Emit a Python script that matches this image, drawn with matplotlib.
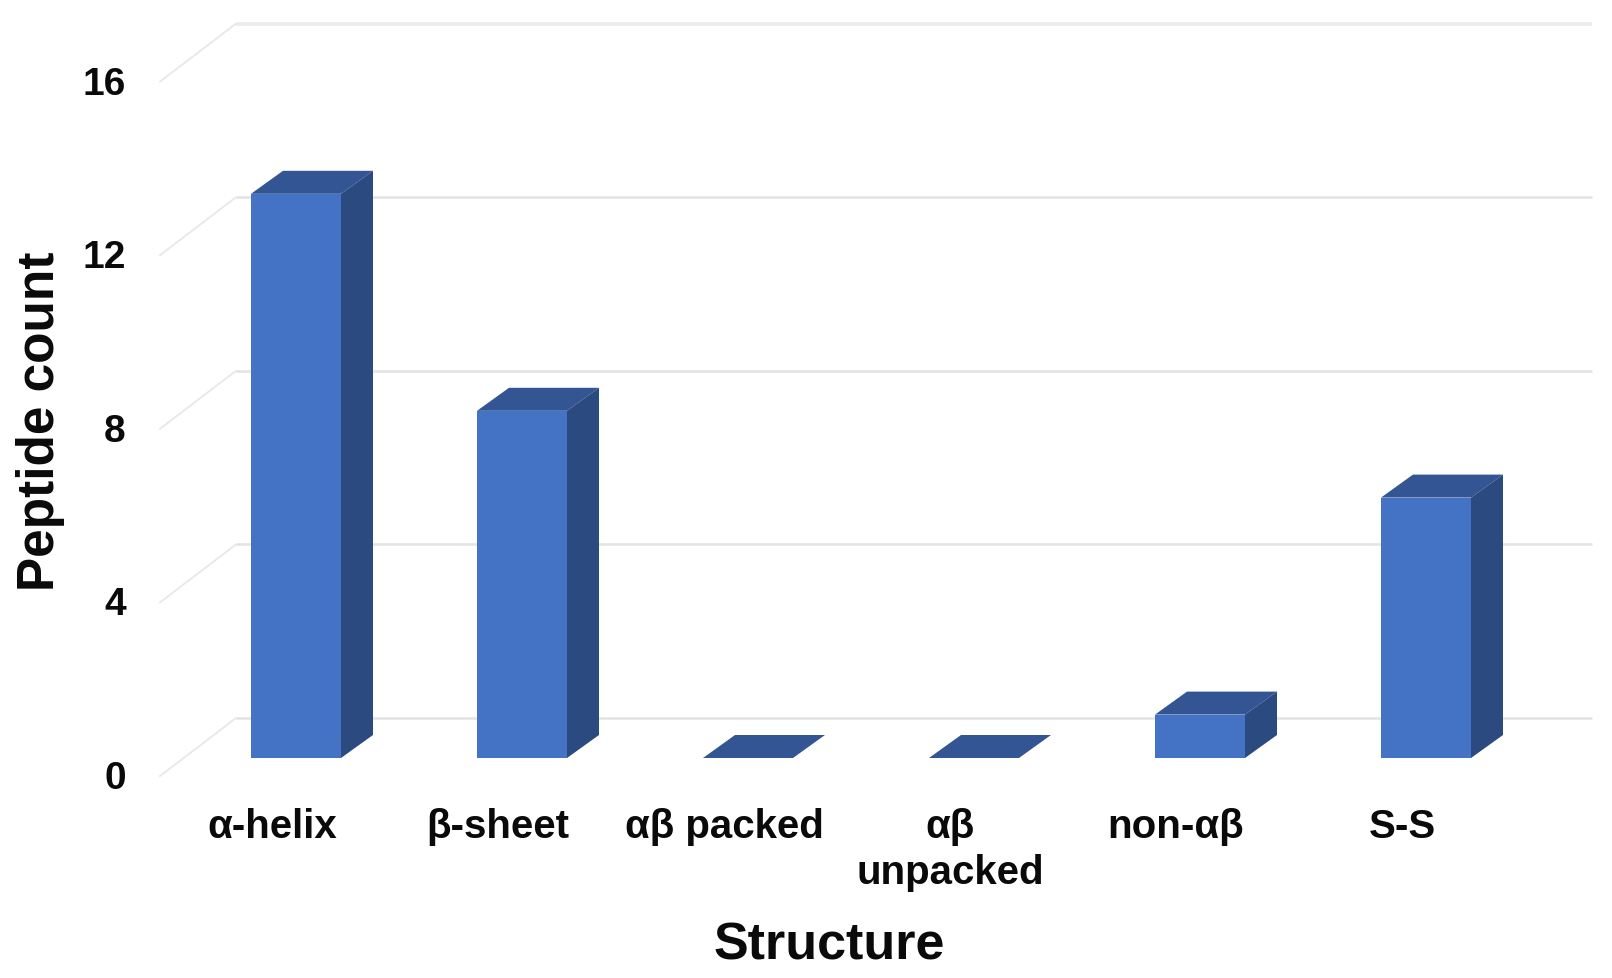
import numpy as np
import matplotlib
matplotlib.use('Agg')
import matplotlib.pyplot as plt
from matplotlib.patches import Polygon

plt.rcParams['font.family'] = ['Liberation Sans', 'DejaVu Sans']
plt.rcParams['font.weight'] = 'bold'

categories = ['α-helix', 'β-sheet', 'αβ packed', 'αβ\nunpacked', 'non-αβ', 'S-S']
peptide_count = [13, 8, 0, 0, 1, 6]
y_ticks = [0, 4, 8, 12, 16]

W, H = 1612, 979
# pixel scale of the chart
px_x = 226.0
px_y = 43.4
x0_px, y0_px = 296, 759
left_px, bottom_px = 130, 800

fig = plt.figure(figsize=(W / 100, H / 100), dpi=100)
ax = fig.add_axes([left_px / W, 1 - bottom_px / H, 1 - left_px / W, bottom_px / H])
ax.set_xlim((left_px - x0_px) / px_x, (W - x0_px) / px_x)
ax.set_ylim((y0_px - bottom_px) / px_y, y0_px / px_y)

# depth of the fake 3d look, in data units
bar_width = 90 / px_x
bar_dx = 32 / px_x
bar_dy = 23 / px_y
back_dy = 40 / px_y
front_dy = -18 / px_y
label_dy = -16 / px_y
wall_left = -60 / px_x
floor_left = -136 / px_x
wall_right = (1592 - x0_px) / px_x

for v in y_ticks:
    lw = 2.6 if v == 16 else 1.8
    color = '#ececec' if v == 16 else '#e3e3e3'
    ax.plot([wall_left, wall_right], [v + back_dy, v + back_dy], color=color, lw=lw, zorder=1,
            solid_capstyle='butt')
    ax.plot([floor_left, wall_left], [v + front_dy, v + back_dy], color='#e8e8e8', lw=1.3, zorder=1)

x = np.arange(len(categories))
ax.bar(x, peptide_count, width=bar_width, color='#4472c4', zorder=3)

for xi, v in zip(x, peptide_count):
    xl = xi - bar_width / 2
    xr = xi + bar_width / 2
    ax.add_patch(Polygon([(xl, v), (xr, v), (xr + bar_dx, v + bar_dy), (xl + bar_dx, v + bar_dy)],
                         closed=True, facecolor='#335593', edgecolor='none', zorder=3))
    if v > 0:
        ax.add_patch(Polygon([(xr, 0), (xr + bar_dx, bar_dy), (xr + bar_dx, v + bar_dy), (xr, v)],
                             closed=True, facecolor='#2a4a80', edgecolor='none', zorder=3))

ax.set_xticks(x - 24 / px_x)
ax.set_xticklabels(categories, fontsize=29, linespacing=1.27)
ax.set_yticks(np.array(y_ticks) + label_dy)
ax.set_yticklabels([str(v) for v in y_ticks], fontsize=28)
ax.tick_params(axis='both', length=0, colors='#0a0a0a')
ax.tick_params(axis='x', pad=6)
ax.tick_params(axis='y', pad=3)
for s in ax.spines.values():
    s.set_visible(False)

fig.text(829 / W, 1 - 960 / H, 'Structure', fontsize=37.5, ha='center', va='baseline', color='#0a0a0a')
fig.text(41 / W, 1 - 421 / H, 'Peptide count', fontsize=37, rotation=90, ha='center', va='center',
         color='#0a0a0a')

fig.savefig('out.png', dpi=100)
